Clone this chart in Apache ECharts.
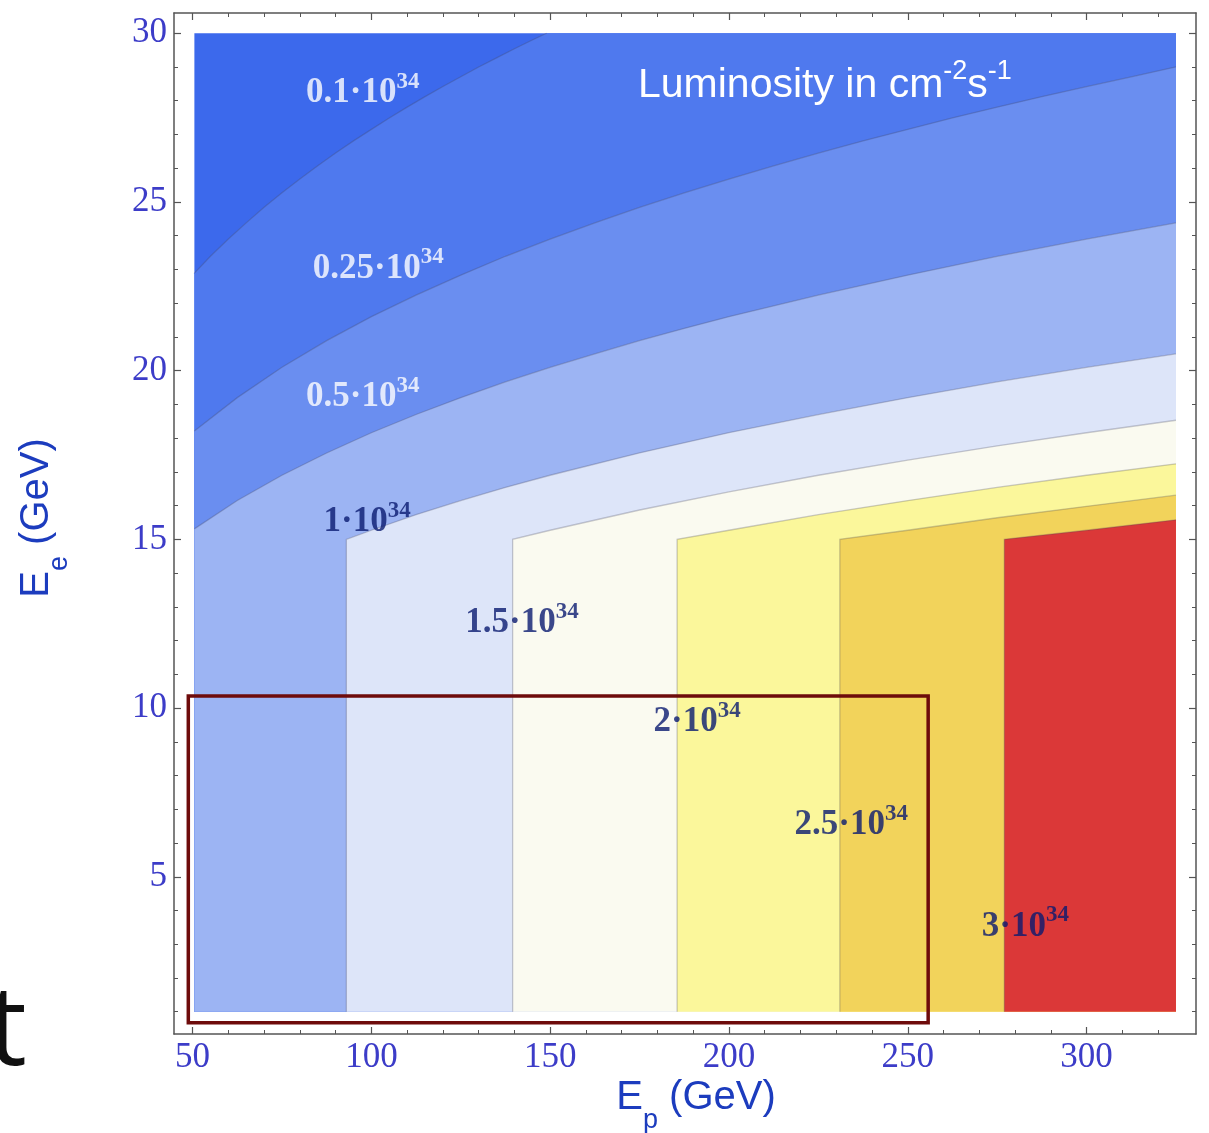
<!DOCTYPE html>
<html><head><meta charset="utf-8">
<script src="https://cdn.jsdelivr.net/npm/echarts@6/dist/echarts.min.js"></script>
<style>html,body{margin:0;padding:0;background:#fff}#c{width:1209px;height:1133px}</style>
</head><body><div id="c"></div>
<script>
// ---- axis ticks ----
const xTicks = [50, 100, 150, 200, 250, 300];
const xMinorTicks = [60, 70, 80, 90, 110, 120, 130, 140, 160, 170, 180, 190, 210, 220, 230, 240, 260, 270, 280, 290, 310, 320];
const yTicks = [5, 10, 15, 20, 25, 30];
const yMinorTicks = [1, 2, 3, 4, 6, 7, 8, 9, 11, 12, 13, 14, 16, 17, 18, 19, 21, 22, 23, 24, 26, 27, 28, 29];

// ---- plotted domain (Ep, Ee) ----
const domainEp = [50.5, 325];
const domainEe = [1, 30];

// ---- contour levels (units of 10^34 cm^-2 s^-1) and their lines [Ep, Ee] ----
const levels = [0.1, 0.25, 0.5, 1, 1.5, 2, 2.5, 3];
const contour_0_1 = [[50.5, 22.89], [55, 23.39], [60, 23.90], [65, 24.38], [70, 24.84], [75, 25.27], [80, 25.68], [85, 26.07], [90, 26.45], [95, 26.81], [100, 27.15], [105, 27.49], [110, 27.81], [115, 28.12], [120, 28.42], [125, 28.71], [130, 29.00], [135, 29.27], [140, 29.54], [145, 29.80], [149, 30]];
const contour_0_25 = [[50.5, 18.21], [62.5, 19.20], [75, 20.10], [87.5, 20.89], [100, 21.60], [112.5, 22.24], [125, 22.83], [137.5, 23.39], [150, 23.90], [162.5, 24.38], [175, 24.84], [187.5, 25.27], [200, 25.68], [212.5, 26.07], [225, 26.45], [237.5, 26.81], [250, 27.15], [262.5, 27.49], [275, 27.81], [287.5, 28.12], [300, 28.42], [312.5, 28.71], [325, 29.00]];
const contour_0_5 = [[50.5, 15.31], [62.5, 16.15], [75, 16.90], [87.5, 17.56], [100, 18.16], [112.5, 18.70], [125, 19.20], [137.5, 19.67], [150, 20.10], [162.5, 20.50], [175, 20.89], [187.5, 21.25], [200, 21.60], [225, 22.24], [250, 22.83], [275, 23.39], [300, 23.90], [325, 24.38]];
const contour_1 = [[93, 1], [93, 15], [100, 15.27], [112.5, 15.73], [125, 16.15], [137.5, 16.54], [150, 16.90], [175, 17.56], [200, 18.16], [225, 18.70], [250, 19.20], [275, 19.67], [300, 20.10], [325, 20.50]];
const contour_1_5 = [[139.5, 1], [139.5, 15], [150, 15.27], [175, 15.87], [200, 16.41], [225, 16.90], [250, 17.35], [275, 17.77], [300, 18.16], [325, 18.53]];
const contour_2 = [[185.5, 1], [185.5, 15], [200, 15.27], [225, 15.73], [250, 16.15], [275, 16.54], [300, 16.90], [325, 17.24]];
const contour_2_5 = [[231, 1], [231, 15], [250, 15.27], [275, 15.64], [300, 15.98], [325, 16.31]];
const contour_3 = [[277, 1], [277, 15], [300, 15.27], [325, 15.58]];
const contours = [contour_0_1, contour_0_25, contour_0_5, contour_1, contour_1_5, contour_2, contour_2_5, contour_3];

// colours: below lowest level, then above each level
const baseColor = '#3c69ec';
const bandColors = ['#4f79ee', '#6a8ef0', '#9cb4f3', '#dde5f9', '#fafaf0', '#fbf79b', '#f2d35b', '#db3838'];

// contour labels
const labelMantissa = ['0.1', '0.25', '0.5', '1', '1.5', '2', '2.5', '3'];
const labelEp = [97.6, 101.9, 97.6, 98.8, 142.1, 191.1, 234.2, 282.9];
const labelEe = [28.3, 23.1, 19.3, 15.6, 12.6, 9.65, 6.6, 3.6];
const labelColors = ['#ffffff', '#ffffff', '#ffffff', '#0a1a70', '#0a1a70', '#0a1a70', '#0a1a70', '#0a1a70'];

// highlighted box [EpMin, EeMin, EpMax, EeMax]
const boxEp = [48.8, 255.7];
const boxEe = [0.67, 10.36];

// ---- build "region above level" polygons ----
function regionAbove(c) {
  const pts = c.slice();
  const last = c[c.length - 1];
  const first = c[0];
  if (last[1] >= domainEe[1] && last[0] < domainEp[1]) pts.push([domainEp[1], domainEe[1]]);
  pts.push([domainEp[1], domainEe[0]]);
  if (first[1] > domainEe[0]) pts.push([first[0], domainEe[0]]);
  return pts;
}
const regions = contours.map(regionAbove);

const serif = 'Liberation Serif, Times New Roman, serif';
const sans = 'Liberation Sans, Arial, sans-serif';
const tickBlue = '#3c3cc8';
const titleBlue = '#1c3cbe';
const frameColor = '#555';

const common = {type: 'value', min: 44.8, max: 330.6, splitLine: {show: false}};
const commonY = {type: 'value', min: 0.34, max: 30.6, splitLine: {show: false}};

const chart = echarts.init(document.getElementById('c'));
chart.setOption({
  animation: false,
  backgroundColor: '#fff',
  grid: {left: 174, right: 13, top: 13, bottom: 99, containLabel: false},
  xAxis: [
    Object.assign({}, common, {position: 'bottom',
      axisLine: {show: true, onZero: false, lineStyle: {color: frameColor, width: 1.5}},
      axisTick: {show: true, inside: true, length: 7, customValues: xTicks, lineStyle: {color: frameColor, width: 1.2}},
      axisLabel: {show: true, customValues: xTicks, margin: 6, fontFamily: serif, fontSize: 35, color: tickBlue}}),
    Object.assign({}, common, {position: 'bottom',
      axisLine: {show: false, onZero: false},
      axisTick: {show: true, inside: true, length: 4, customValues: xMinorTicks, lineStyle: {color: frameColor, width: 1}},
      axisLabel: {show: false}}),
    Object.assign({}, common, {position: 'top',
      axisLine: {show: true, onZero: false, lineStyle: {color: frameColor, width: 1.5}},
      axisTick: {show: true, inside: true, length: 7, customValues: xTicks, lineStyle: {color: frameColor, width: 1.2}},
      axisLabel: {show: false}}),
    Object.assign({}, common, {position: 'top',
      axisLine: {show: false, onZero: false},
      axisTick: {show: true, inside: true, length: 4, customValues: xMinorTicks, lineStyle: {color: frameColor, width: 1}},
      axisLabel: {show: false}})
  ],
  yAxis: [
    Object.assign({}, commonY, {position: 'left',
      axisLine: {show: true, onZero: false, lineStyle: {color: frameColor, width: 1.5}},
      axisTick: {show: true, inside: true, length: 7, customValues: yTicks, lineStyle: {color: frameColor, width: 1.2}},
      axisLabel: {show: true, customValues: yTicks, margin: 7, fontFamily: serif, fontSize: 35, color: tickBlue}}),
    Object.assign({}, commonY, {position: 'left',
      axisLine: {show: false, onZero: false},
      axisTick: {show: true, inside: true, length: 4, customValues: yMinorTicks, lineStyle: {color: frameColor, width: 1}},
      axisLabel: {show: false}}),
    Object.assign({}, commonY, {position: 'right',
      axisLine: {show: true, onZero: false, lineStyle: {color: frameColor, width: 1.5}},
      axisTick: {show: true, inside: true, length: 7, customValues: yTicks, lineStyle: {color: frameColor, width: 1.2}},
      axisLabel: {show: false}}),
    Object.assign({}, commonY, {position: 'right',
      axisLine: {show: false, onZero: false},
      axisTick: {show: true, inside: true, length: 4, customValues: yMinorTicks, lineStyle: {color: frameColor, width: 1}},
      axisLabel: {show: false}})
  ],
  series: [
    {
      type: 'custom', name: 'bands', xAxisIndex: 0, yAxisIndex: 0, silent: true, z: 1,
      data: [[-1, 0]].concat(levels.map((l, i) => [i, l])),
      renderItem: function (params, api) {
        const idx = api.value(0);
        let pts, color;
        if (idx < 0) {
          pts = [[domainEp[0], domainEe[0]], [domainEp[0], domainEe[1]], [domainEp[1], domainEe[1]], [domainEp[1], domainEe[0]]];
          color = baseColor;
        } else {
          pts = regions[idx];
          color = bandColors[idx];
        }
        return {type: 'polygon', z2: idx + 2,
          shape: {points: pts.map(p => api.coord(p))},
          style: {fill: color, stroke: null}};
      }
    },
    {
      type: 'custom', name: 'contourLines', xAxisIndex: 0, yAxisIndex: 0, silent: true, z: 2,
      data: levels.map((l, i) => [i, l]),
      renderItem: function (params, api) {
        const idx = api.value(0);
        return {type: 'polyline',
          shape: {points: contours[idx].map(p => api.coord(p))},
          style: {fill: null, stroke: 'rgba(70,70,90,0.28)', lineWidth: 1.3}};
      }
    },
    {
      type: 'custom', name: 'box', xAxisIndex: 0, yAxisIndex: 0, silent: true, z: 3,
      data: [[boxEp[0], boxEe[0], boxEp[1], boxEe[1]]],
      renderItem: function (params, api) {
        const a = api.coord([api.value(0), api.value(3)]);
        const b = api.coord([api.value(2), api.value(1)]);
        return {type: 'rect', shape: {x: a[0], y: a[1], width: b[0] - a[0], height: b[1] - a[1]},
          style: {fill: null, stroke: '#6e0b0b', lineWidth: 3.5}};
      }
    },
    {
      type: 'scatter', name: 'labels', xAxisIndex: 0, yAxisIndex: 0, silent: true, z: 4,
      symbolSize: 0,
      data: labelEp.map((x, i) => ({
        value: [x, labelEe[i]],
        label: {
          show: true, position: 'inside',
          formatter: '{m|' + labelMantissa[i] + '·10}{e|34}',
          rich: {
            m: {fontFamily: serif, fontWeight: 'bold', fontSize: 35, color: labelColors[i], verticalAlign: 'bottom', lineHeight: 40},
            e: {fontFamily: serif, fontWeight: 'bold', fontSize: 23, color: labelColors[i], verticalAlign: 'top', lineHeight: 40}
          }
        }
      }))
    }
  ],
  graphic: [
    {type: 'text', left: 638, top: 58, z: 10, silent: true,
      style: {text: '{a|Luminosity in cm}{b|-2}{a|s}{b|-1}', rich: {
        a: {fontFamily: sans, fontSize: 41, fill: '#fff', verticalAlign: 'bottom', lineHeight: 48},
        b: {fontFamily: sans, fontSize: 27, fill: '#fff', verticalAlign: 'top', lineHeight: 48}
      }}},
    {type: 'text', x: 696, y: 1106, z: 10, silent: true,
      style: {text: '{a|E}{b|p}{a| (GeV)}', align: 'center', verticalAlign: 'middle', rich: {
        a: {fontFamily: sans, fontSize: 40, fill: titleBlue, verticalAlign: 'top', lineHeight: 56},
        b: {fontFamily: sans, fontSize: 27, fill: titleBlue, verticalAlign: 'bottom', lineHeight: 56}
      }}},
    {type: 'text', x: 45, y: 518, rotation: Math.PI / 2, z: 10, silent: true,
      style: {text: '{a|E}{b|e}{a| (GeV)}', align: 'center', verticalAlign: 'middle', rich: {
        a: {fontFamily: sans, fontSize: 40, fill: titleBlue, verticalAlign: 'top', lineHeight: 56},
        b: {fontFamily: sans, fontSize: 27, fill: titleBlue, verticalAlign: 'bottom', lineHeight: 56}
      }}},
    {type: 'text', x: -13, y: 977, z: 10, silent: true,
      style: {text: 't', fontFamily: 'Open Sans, DejaVu Sans, sans-serif', fontWeight: 400, fontSize: 112, fill: '#111', verticalAlign: 'top'}}
  ]
});
</script></body></html>
